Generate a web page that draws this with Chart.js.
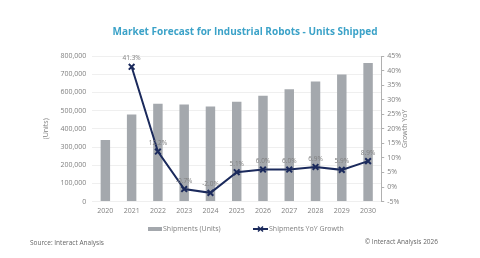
<!DOCTYPE html>
<html>
<head>
<meta charset="utf-8">
<script src="https://cdn.jsdelivr.net/npm/chart.js@4.4.1/dist/chart.umd.min.js"></script>
<style>
  html, body { margin: 0; padding: 0; background: #fff; }
  #wrap { position: relative; width: 480px; height: 258px; }
</style>
</head>
<body>
<div id="wrap"><canvas id="graficoRobos" width="480" height="258"></canvas></div>
<script>
const anos = ['2020', '2021', '2022', '2023', '2024', '2025', '2026', '2027', '2028', '2029', '2030'];
const unidades = [339000, 479000, 537000, 533000, 522000, 549000, 582000, 617000, 660000, 699000, 761000];
const crescimento = [null, 41.3, 12.2, -0.7, -2.0, 5.1, 6.0, 6.0, 6.9, 5.9, 8.9];

const corBarra = '#a4a8ad';
const corLinha = '#1b2a5c';
const corTexto = '#808080';
const fonte = "'Open Sans', 'Noto Sans', sans-serif";

// titulo, legenda, rotulos e rodape desenhados a mao
const extras = {
    id: 'extras',
    afterDatasetsDraw(chart) {
        const ctx = chart.ctx;
        const meta = chart.getDatasetMeta(1);
        ctx.save();
        ctx.font = '6.5px ' + fonte;
        ctx.fillStyle = corTexto;
        ctx.textAlign = 'center';
        ctx.textBaseline = 'bottom';
        meta.data.forEach(function (p, i) {
            const v = crescimento[i];
            if (v === null) return;
            ctx.fillText(v.toFixed(1) + '%', p.x, p.y - 5);
        });
        ctx.restore();
    },
    afterDraw(chart) {
        const ctx = chart.ctx;
        const area = chart.chartArea;
        ctx.save();

        // titulo
        ctx.font = 'bold 10px ' + fonte;
        ctx.fillStyle = '#3ba2c8';
        ctx.textAlign = 'center';
        ctx.textBaseline = 'middle';
        ctx.fillText('Market Forecast for Industrial Robots - Units Shipped', 245, 32);

        // titulo do eixo direito (de baixo para cima)
        ctx.font = '7px ' + fonte;
        ctx.fillStyle = corTexto;
        ctx.translate(405, (area.top + area.bottom) / 2);
        ctx.rotate(-Math.PI / 2);
        ctx.fillText('Growth YoY', 0, 0);
        ctx.setTransform(1, 0, 0, 1, 0, 0);

        // legenda
        const ds = chart.data.datasets;
        const ly = 229;
        ctx.fillStyle = corBarra;
        ctx.fillRect(148, ly - 2, 14, 4);
        ctx.strokeStyle = corLinha;
        ctx.lineWidth = 2;
        ctx.beginPath(); ctx.moveTo(253, ly); ctx.lineTo(268, ly); ctx.stroke();
        ctx.lineWidth = 1.5;
        ctx.beginPath();
        ctx.moveTo(258, ly - 2.5); ctx.lineTo(263, ly + 2.5);
        ctx.moveTo(263, ly - 2.5); ctx.lineTo(258, ly + 2.5);
        ctx.stroke();
        ctx.fillStyle = corTexto;
        ctx.textAlign = 'left';
        ctx.fillText(ds[0].label, 163, ly);
        ctx.fillText(ds[1].label, 269, ly);

        // rodape
        ctx.font = '6.5px ' + fonte;
        ctx.fillStyle = '#666';
        ctx.fillText('Source: Interact Analysis', 30, 243);
        ctx.textAlign = 'right';
        ctx.fillText('\u00A9 Interact Analysis 2026', 438, 242);
        ctx.restore();
    }
};

const config = {
    type: 'bar',
    data: {
        labels: anos,
        datasets: [{
            type: 'bar',
            label: 'Shipments (Units)',
            data: unidades,
            backgroundColor: corBarra,
            barPercentage: 0.36,
            categoryPercentage: 1,
            yAxisID: 'y',
            order: 2
        }, {
            type: 'line',
            label: 'Shipments YoY Growth',
            data: crescimento,
            borderColor: corLinha,
            backgroundColor: corLinha,
            borderWidth: 2,
            pointStyle: 'crossRot',
            pointRadius: 4,
            pointBorderWidth: 2,
            tension: 0,
            yAxisID: 'y1',
            order: 1
        }]
    },
    options: {
        responsive: false,
        animation: false,
        layout: { padding: { left: 40, right: 76, bottom: 38, top: 56 } },
        plugins: {
            legend: { display: false },
            tooltip: { enabled: false }
        },
        scales: {
            x: {
                grid: { display: false, drawTicks: false },
                border: { display: false },
                ticks: { color: corTexto, font: { family: fonte, size: 7 }, padding: 5 }
            },
            y: {
                position: 'left',
                min: 0,
                max: 800000,
                ticks: {
                    stepSize: 100000,
                    autoSkip: false,
                    color: corTexto,
                    font: { family: fonte, size: 7 },
                    padding: 6,
                    callback: (v) => v.toLocaleString('en-US')
                },
                grid: { color: '#efefef', drawTicks: false },
                border: { display: false },
                title: {
                    display: true,
                    text: '(Units)',
                    color: corTexto,
                    font: { family: fonte, size: 7 },
                    padding: { top: 2, bottom: 4 }
                }
            },
            y1: {
                position: 'right',
                min: -5,
                max: 45,
                ticks: {
                    stepSize: 5,
                    autoSkip: false,
                    color: corTexto,
                    font: { family: fonte, size: 7 },
                    padding: 3,
                    callback: (v) => v + '%'
                },
                grid: { drawOnChartArea: false, color: '#b0b0b0', tickLength: 3 },
                border: { display: true, color: '#b0b0b0' }
            }
        }
    },
    plugins: [extras]
};

const graficoRobos = new Chart(document.getElementById('graficoRobos'), config);
</script>
</body>
</html>
